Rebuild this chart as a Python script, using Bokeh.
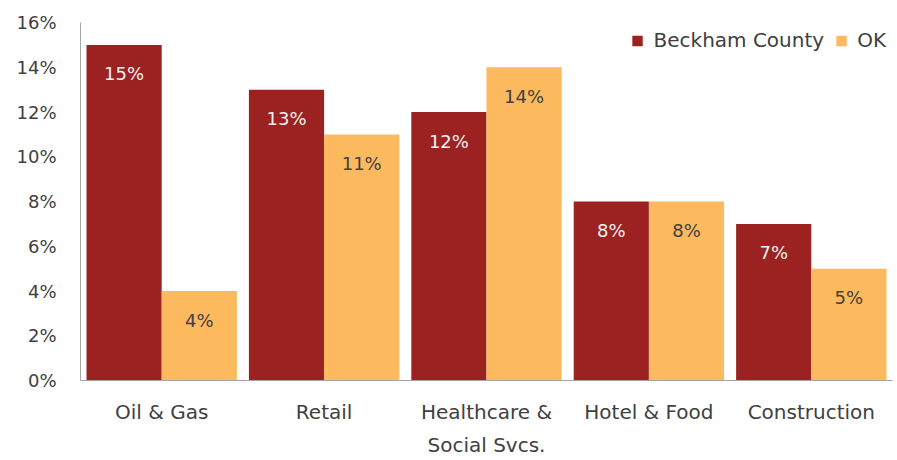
from bokeh.plotting import figure
from bokeh.models import ColumnDataSource, FactorRange, FixedTicker, PrintfTickFormatter, Legend, LegendItem, Range1d
from bokeh.transform import dodge
from bokeh.core.properties import value
from bokeh.embed import file_html
from bokeh.resources import INLINE

categories = ["Oil & Gas", "Retail", "Healthcare &\nSocial Svcs.", "Hotel & Food", "Construction"]
beckham = [15, 13, 12, 8, 7]
ok = [4, 11, 14, 8, 5]
y_ticks = [0, 2, 4, 6, 8, 10, 12, 14, 16]

RED = "#9B2221"
ORANGE = "#FDB95E"
FONT = "DejaVu Sans"

src = ColumnDataSource(dict(
    cat=categories, beckham=beckham, ok=ok,
    bl=[f"{v}%" for v in beckham], ol=[f"{v}%" for v in ok],
    bly=[v - 1.3 for v in beckham], oly=[v - 1.3 for v in ok],
))

p = figure(width=897, height=460, x_range=FactorRange(*categories), y_range=Range1d(0, 16),
           output_backend="svg", toolbar_location=None,
           min_border_left=80, min_border_right=5, min_border_top=22, min_border_bottom=80)
p.outline_line_color = None
p.xgrid.grid_line_color = None
p.ygrid.grid_line_color = None
p.x_range.range_padding = 0

r1 = p.vbar(x=dodge("cat", -0.2315, range=p.x_range), top="beckham", width=0.463, source=src,
            fill_color=RED, line_color=None)
r2 = p.vbar(x=dodge("cat", 0.2315, range=p.x_range), top="ok", width=0.463, source=src,
            fill_color=ORANGE, line_color=None)

p.text(x=dodge("cat", -0.2315, range=p.x_range), y="bly", text="bl", source=src,
       text_align="center", text_baseline="middle", text_color="#F2F2F2",
       text_font=value(FONT), text_font_size="18px")
p.text(x=dodge("cat", 0.2315, range=p.x_range), y="oly", text="ol", source=src,
       text_align="center", text_baseline="middle", text_color="#404040",
       text_font=value(FONT), text_font_size="18px")

p.yaxis.ticker = FixedTicker(ticks=y_ticks)
p.yaxis.formatter = PrintfTickFormatter(format="%d%%")
for ax in (p.xaxis[0], p.yaxis[0]):
    ax.major_tick_line_color = None
    ax.minor_tick_line_color = None
    ax.major_tick_out = 0
    ax.major_tick_in = 0
    ax.axis_line_color = "#A6A6A6"
    ax.major_label_text_font = FONT
    ax.major_label_text_color = "#404040"
p.yaxis.major_label_text_font_size = "18px"
p.xaxis.major_label_text_font_size = "20px"
p.xaxis.major_label_text_line_height = 1.4
p.yaxis.major_label_standoff = 24
p.xaxis.major_label_standoff = 19

legend = Legend(items=[LegendItem(label="Beckham County", renderers=[r1]),
                       LegendItem(label="OK", renderers=[r2])],
                orientation="horizontal", location="top_right",
                border_line_color=None, background_fill_alpha=0,
                label_text_font=FONT, label_text_font_size="20px", label_text_color="#404040",
                glyph_width=13, glyph_height=13, spacing=10, label_standoff=10, margin=6, padding=4)
p.add_layout(legend)

open("out.html", "w").write(file_html(p, INLINE))
